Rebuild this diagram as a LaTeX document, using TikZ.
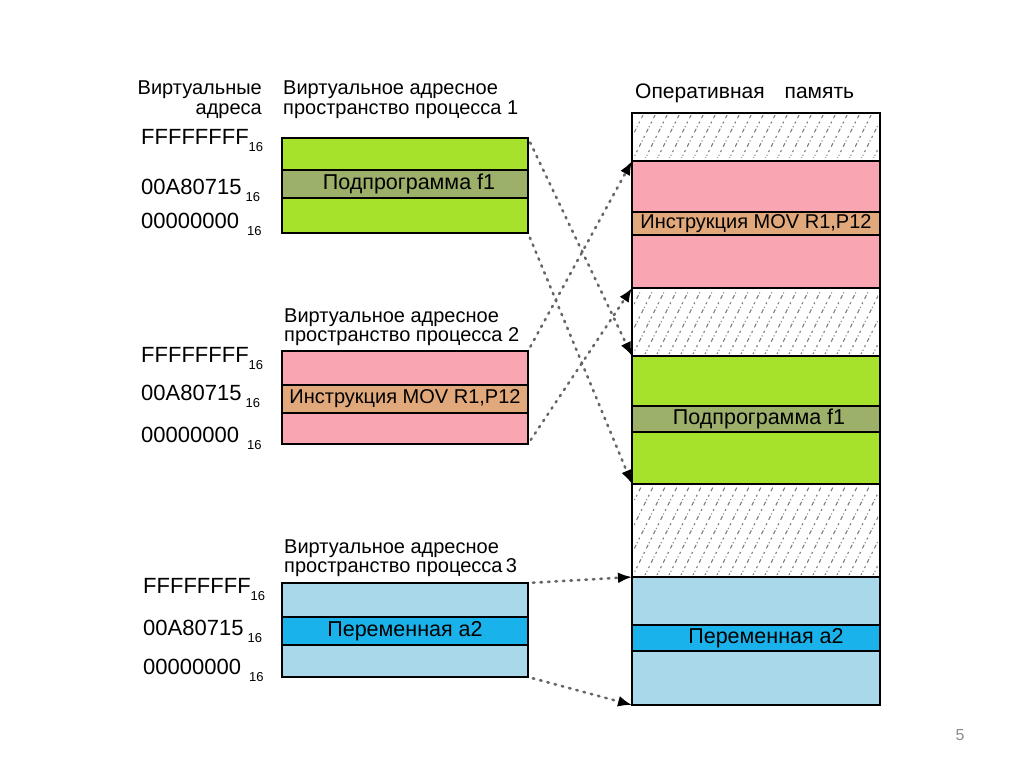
\documentclass[tikz,border=0pt]{standalone}
\usepackage{fontspec}
\setmainfont{Liberation Sans}
\usetikzlibrary{arrows.meta,positioning}
\definecolor{limegr}{RGB}{166,226,44}
\definecolor{olivegr}{RGB}{157,176,105}
\definecolor{pinkmem}{RGB}{249,165,178}
\definecolor{tanmem}{RGB}{225,168,123}
\definecolor{skymem}{RGB}{168,216,234}
\definecolor{bluemem}{RGB}{26,178,234}
\newcommand\hexsub[1]{\raisebox{-7pt}{\fontsize{13}{13}\selectfont #1}}

\begin{document}
\begin{tikzpicture}[x=1pt,y=-1pt,
  band/.style={draw=black,line width=1.5pt,minimum width=246pt,anchor=north west,
    inner sep=0pt,outer sep=0pt,font=\fontsize{21.5}{22}\selectfont},
  mem/.style={band,minimum width=248pt},
  instr/.style={font=\fontsize{20}{20}\selectfont},
  hdr/.style={anchor=base west,inner sep=0pt,font=\fontsize{20}{20}\selectfont},
  addr/.style={anchor=base west,inner sep=0pt,font=\fontsize{22}{22}\selectfont},
  link/.style={draw=black!60,line width=2.6pt,dash pattern=on 1.5pt off 6pt,line cap=round,
    shorten <=5pt,-{Latex[length=14pt,width=11pt,black]}},
  hatch/.style={draw=black!50,line width=1.1pt,dash pattern=on 4pt off 2pt on 1pt off 3pt on 2pt off 4pt}]
  \useasboundingbox (0,0) rectangle (1024,767);

  \node[hdr,anchor=base east] (va1) at (262,95) {Виртуальные};
  \node[hdr,anchor=base east] (va2) at (262,115) {адреса};
  \node[hdr,font=\fontsize{21}{21}\selectfont] (om) at (635,99) {Оперативная\hspace{20pt}память};

  \node[hdr] (h1a) at (283,95) {Виртуальное адресное};
  \node[hdr] (h1b) at (283,115) {пространство процесса 1};
  \node[hdr] (h2a) at (284,322) {Виртуальное адресное};
  \node[hdr] (h2b) at (284,341) {пространство процесса 2};
  \node[hdr] (h3a) at (284,553) {Виртуальное адресное};
  \node[hdr] (h3b) at (284,572) {пространство процесса\,3};

  \node[addr] (f1) at (141,145) {FFFFFFFF\hexsub{16}};
  \node[addr] (m1) at (141,195) {00A80715\hspace{4pt}\hexsub{16}};
  \node[addr] (z1) at (141,229) {00000000\hspace{8pt}\hexsub{16}};
  \node[addr] (f2) at (141,362) {FFFFFFFF\hexsub{16}};
  \node[addr] (m2) at (141,400) {00A80715\hspace{4pt}\hexsub{16}};
  \node[addr] (z2) at (141,442) {00000000\hspace{8pt}\hexsub{16}};
  \node[addr] (f3) at (143,593) {FFFFFFFF\hexsub{16}};
  \node[addr] (m3) at (143,635) {00A80715\hspace{4pt}\hexsub{16}};
  \node[addr] (z3) at (143,674) {00000000\hspace{8pt}\hexsub{16}};

  \node[band,fill=limegr,minimum height=32pt] (p1a) at (282,138) {};
  \node[band,fill=olivegr,minimum height=28pt] (p1b) at (282,170) {\hspace{8pt}Подпрограмма f1};
  \node[band,fill=limegr,minimum height=35pt] (p1c) at (282,198) {};

  \node[band,fill=pinkmem,minimum height=34pt] (p2a) at (282,351) {};
  \node[band,fill=tanmem,minimum height=28pt,instr] (p2b) at (282,385) {Инструкция MOV R1,P12};
  \node[band,fill=pinkmem,minimum height=31pt] (p2c) at (282,413) {};

  \node[band,fill=skymem,minimum height=34pt] (p3a) at (282,583) {};
  \node[band,fill=bluemem,minimum height=28pt] (p3b) at (282,617) {Переменная а2};
  \node[band,fill=skymem,minimum height=32pt] (p3c) at (282,645) {};

  \node[mem,minimum height=48pt] (r1) at (632,113) {};
  \node[mem,fill=pinkmem,minimum height=51pt] (r2) at (632,161) {};
  \node[mem,fill=tanmem,minimum height=23pt,instr] (r3) at (632,212) {Инструкция MOV R1,P12};
  \node[mem,fill=pinkmem,minimum height=53pt] (r4) at (632,235) {};
  \node[mem,minimum height=68pt] (r5) at (632,288) {};
  \node[mem,fill=limegr,minimum height=50pt] (r6) at (632,356) {};
  \node[mem,fill=olivegr,minimum height=26pt] (r7) at (632,406) {\hspace{6pt}Подпрограмма f1};
  \node[mem,fill=limegr,minimum height=52pt] (r8) at (632,432) {};
  \node[mem,minimum height=93pt] (r9) at (632,484) {};
  \node[mem,fill=skymem,minimum height=48pt] (r10) at (632,577) {};
  \node[mem,fill=bluemem,minimum height=26pt] (r11) at (632,625) {\hspace{20pt}Переменная а2};
  \node[mem,fill=skymem,minimum height=54pt] (r12) at (632,651) {};

  \foreach \ya/\yb in {113/161,288/356,484/577} {
    \begin{scope}
      \clip (634,\ya+3) rectangle (878,\yb-3);
      \foreach \k in {560,572,...,900}
        \draw[hatch] (\k,\yb) -- ++(50,-100);
    \end{scope}
  }

  \draw[link] (p1a.north east) -- (r6.north west);
  \draw[link] (p1c.south east) -- (r8.south west);
  \draw[link] (p2a.north east) -- (r2.north west);
  \draw[link] (p2c.south east) -- (r4.south west);
  \draw[link] (p3a.north east) -- (r10.north west);
  \draw[link] (p3c.south east) -- (r12.south west);

  \node[text=black!45,font=\fontsize{16}{16}\selectfont] (pg) at (960,735) {5};
\end{tikzpicture}
\end{document}
